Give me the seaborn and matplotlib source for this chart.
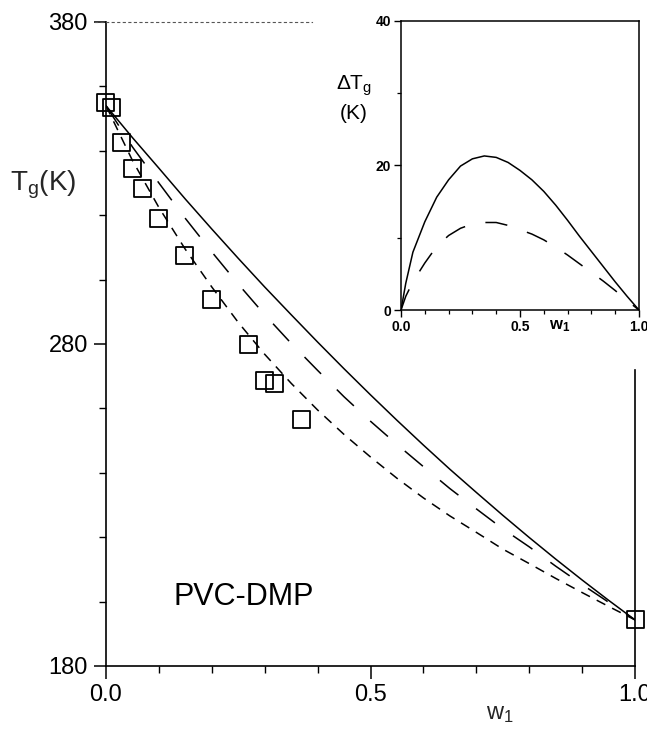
import matplotlib
matplotlib.use("Agg")
import matplotlib.pyplot as plt
import seaborn as sns
import pandas as pd
from matplotlib.ticker import MultipleLocator

# ---------------- data ----------------
sq_w = [0.0, 0.01, 0.03, 0.05, 0.069, 0.099, 0.149, 0.20, 0.269, 0.299, 0.319, 0.369, 1.0]
sq_T = [355.1, 353.3, 342.6, 334.6, 328.2, 319.0, 307.4, 293.7, 279.7, 268.8, 267.8, 256.4, 194.3]

curve_w = [0.0, 0.05, 0.1, 0.15, 0.2, 0.25, 0.3, 0.35, 0.4, 0.45, 0.5,
           0.55, 0.6, 0.65, 0.7, 0.75, 0.8, 0.85, 0.9, 0.95, 1.0]
T_solid = [354.0, 344.1, 334.6, 325.0, 315.7, 306.6, 297.7, 289.1, 280.6, 272.3, 264.2,
           256.3, 248.6, 241.1, 233.9, 226.8, 219.9, 213.2, 206.7, 200.4, 194.3]
T_longdash = [354.0, 341.2, 330.0, 319.0, 308.6, 298.6, 289.1, 280.2, 271.8, 263.6, 256.0,
              248.8, 241.9, 235.1, 228.8, 222.6, 217.0, 211.0, 205.3, 199.8, 194.3]
T_shortdash = [354.0, 337.0, 322.4, 309.4, 297.7, 286.7, 276.8, 267.8, 259.5, 251.9, 244.9,
               238.3, 232.2, 226.6, 221.5, 216.3, 211.8, 207.2, 202.8, 198.5, 194.3]

inset_w = [0.0, 0.02, 0.05, 0.1, 0.15, 0.2, 0.25, 0.3, 0.35, 0.4, 0.45, 0.5,
           0.55, 0.6, 0.65, 0.7, 0.75, 0.8, 0.85, 0.9, 0.95, 1.0]
dT_solid = [0.0, 3.7, 8.0, 12.2, 15.6, 18.0, 19.9, 20.9, 21.3, 21.1, 20.4, 19.3,
            18.0, 16.4, 14.5, 12.4, 10.2, 8.1, 6.0, 3.9, 1.9, 0.0]
dT_dash = [0.0, 1.9, 3.9, 6.5, 8.8, 10.3, 11.3, 11.9, 12.1, 12.1, 11.7, 11.1,
           10.5, 9.7, 8.7, 7.6, 6.4, 5.2, 4.0, 2.7, 1.3, 0.0]

main_xticks = [0.0, 0.5, 1.0]
main_xticklabels = ["0.0", "0.5", "1.0"]
main_yticks = [180, 280, 380]
inset_yticks = [0, 20, 40]

# ---------------- style ----------------
sns.set_theme(style="ticks")
plt.rcParams["font.family"] = ["Liberation Sans", "DejaVu Sans"]
plt.rcParams["mathtext.default"] = "regular"
plt.rcParams["lines.scale_dashes"] = False
plt.rcParams["axes.edgecolor"] = "black"
plt.rcParams["xtick.color"] = "black"
plt.rcParams["ytick.color"] = "black"
plt.rcParams["text.color"] = "black"

fig = plt.figure(figsize=(6.47, 7.38), dpi=100)
fig.patch.set_facecolor("white")

# ---------------- main axes ----------------
ax = fig.add_axes([0.1638, 0.0976, 0.8177, 0.8726])
ax.set_facecolor("white")

main_df = pd.DataFrame({"w": curve_w, "solid": T_solid,
                        "longdash": T_longdash, "shortdash": T_shortdash})
sns.lineplot(data=main_df, x="w", y="solid", ax=ax, color="black", lw=1.1,
             estimator=None, sort=False)
sns.lineplot(data=main_df, x="w", y="longdash", ax=ax, color="black", lw=1.1,
             estimator=None, sort=False)
ax.lines[-1].set_linestyle((0, (17, 16)))
sns.lineplot(data=main_df, x="w", y="shortdash", ax=ax, color="black", lw=1.1,
             estimator=None, sort=False)
ax.lines[-1].set_linestyle((0, (7, 5.5)))

sq_df = pd.DataFrame({"w": sq_w, "T": sq_T})
sns.scatterplot(data=sq_df, x="w", y="T", ax=ax, marker="s", s=150,
                facecolor="none", edgecolor="black", linewidth=1.3,
                clip_on=False, zorder=4)

ax.set_xlim(0, 1)
ax.set_ylim(180, 380)
ax.set_xticks(main_xticks)
ax.set_xticklabels(main_xticklabels)
ax.set_yticks(main_yticks)
ax.xaxis.set_minor_locator(MultipleLocator(0.1))
ax.yaxis.set_minor_locator(MultipleLocator(20))
ax.tick_params(which="major", direction="out", length=9, width=1.1,
               labelsize=17, pad=4)
ax.tick_params(which="minor", direction="out", length=5, width=1.0)

for s in ["left", "bottom", "right"]:
    ax.spines[s].set_linewidth(1.2)
    ax.spines[s].set_color("black")
ax.spines["right"].set_visible(True)
ax.spines["right"].set_bounds(180, 272)
ax.spines["top"].set_visible(True)
ax.spines["top"].set_bounds(-0.02, 0.39)
ax.spines["top"].set_linestyle((0, (1.5, 2.5)))
ax.spines["top"].set_linewidth(0.8)
ax.spines["top"].set_color("#555555")

ax.set_xlabel("w$_1$", fontsize=17)
ax.xaxis.set_label_coords(0.745, -0.058)
ax.set_ylabel("T$_g$(K)", rotation=0, fontsize=20, ha="center", va="center")
ax.yaxis.set_label_coords(-0.119, 0.747)

ax.text(0.26, 201.4, "PVC-DMP", fontsize=22, ha="center", va="center")

# ---------------- inset ----------------
ax2 = fig.add_axes([0.6198, 0.5799, 0.3678, 0.3921])
ax2.set_facecolor("white")
ax2.set_zorder(5)

inset_df = pd.DataFrame({"w": inset_w, "solid": dT_solid, "dash": dT_dash})
sns.lineplot(data=inset_df, x="w", y="solid", ax=ax2, color="black", lw=1.1,
             estimator=None, sort=False)
sns.lineplot(data=inset_df, x="w", y="dash", ax=ax2, color="black", lw=1.1,
             estimator=None, sort=False)
ax2.lines[-1].set_linestyle((0, (16, 15)))

ax2.set_xlim(0, 1)
ax2.set_ylim(0, 40)
ax2.set_xticks(main_xticks)
ax2.set_xticklabels(main_xticklabels)
ax2.set_yticks(inset_yticks)
ax2.xaxis.set_minor_locator(MultipleLocator(0.1))
ax2.yaxis.set_minor_locator(MultipleLocator(10))
ax2.tick_params(which="major", direction="out", length=5, width=1.0,
                labelsize=10, pad=2)
ax2.tick_params(which="minor", direction="out", length=3, width=0.9)
for lbl in ax2.get_xticklabels() + ax2.get_yticklabels():
    lbl.set_fontweight("bold")
for s in ["left", "bottom", "right", "top"]:
    ax2.spines[s].set_visible(True)
    ax2.spines[s].set_linewidth(1.1)
    ax2.spines[s].set_color("black")
ax2.set_xlabel("")
ax2.set_ylabel("")
ax2.text(0.665, -0.055, "w$_1$", transform=ax2.transAxes, ha="center",
         va="center", fontsize=12, fontweight="bold")
ax2.text(-0.197, 0.733, "ΔT$_g$\n(K)", transform=ax2.transAxes, ha="center",
         va="center", fontsize=15, linespacing=1.4)

fig.savefig("out.png", dpi=100, facecolor="white")
